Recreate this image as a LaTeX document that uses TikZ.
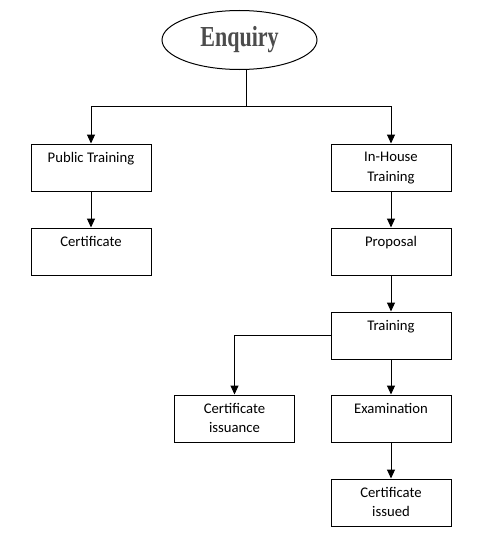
\documentclass[tikz,border=0pt]{standalone}
\usepackage{fontspec}
\setmainfont{Carlito}
\newfontfamily\artfont{Liberation Serif}
\usetikzlibrary{arrows.meta,shapes.geometric}
\begin{document}
\begin{tikzpicture}[x=1pt, y=-1pt,
  box/.style={rectangle, draw, line width=1pt, minimum width=120pt, minimum height=47pt},
  txt/.style={anchor=north, align=center, inner sep=8.5pt, font=\fontsize{14.7}{19.5}\selectfont},
  arrow/.style={-{Triangle[width=8pt,length=9pt]}, line width=1pt}
]
\useasboundingbox (0,0) rectangle (479,543);
\node[ellipse, draw, line width=1pt, minimum width=155pt, minimum height=59pt, text=gray!60!black] (enq) at (239.5,40)
  {\artfont\bfseries\fontsize{29}{29}\selectfont\scalebox{0.76}[1]{Enquiry}};

\node[box, label={[txt]north:Public Training}] (pub) at (91,167.5) {};
\node[box, label={[txt]north:Certificate}] (cert) at (91,251.5) {};
\node[box, label={[txt]north:{In-House\\Training}}] (inh) at (391,167.5) {};
\node[box, label={[txt]north:Proposal}] (prop) at (391,251.5) {};
\node[box, label={[txt]north:Training}] (trn) at (391,335.5) {};
\node[box, label={[txt]north:{Certificate\\issuance}}] (iss) at (234.5,418.5) {};
\node[box, label={[txt]north:Examination}] (exam) at (391,418.5) {};
\node[box, label={[txt]north:{Certificate\\issued}}] (issd) at (391,502.5) {};

\draw[line width=1pt] ([xshift=6.5pt]enq.south) -- ++(0,36) coordinate (fork);
\draw[arrow] (fork) -| (pub);
\draw[arrow] (fork) -| (inh);
\draw[arrow] (pub) -- (cert);
\draw[arrow] (inh) -- (prop);
\draw[arrow] (prop) -- (trn);
\draw[arrow] (trn.west) -| (iss);
\draw[arrow] (trn) -- (exam);
\draw[arrow] (exam) -- (issd);
\end{tikzpicture}
\end{document}
